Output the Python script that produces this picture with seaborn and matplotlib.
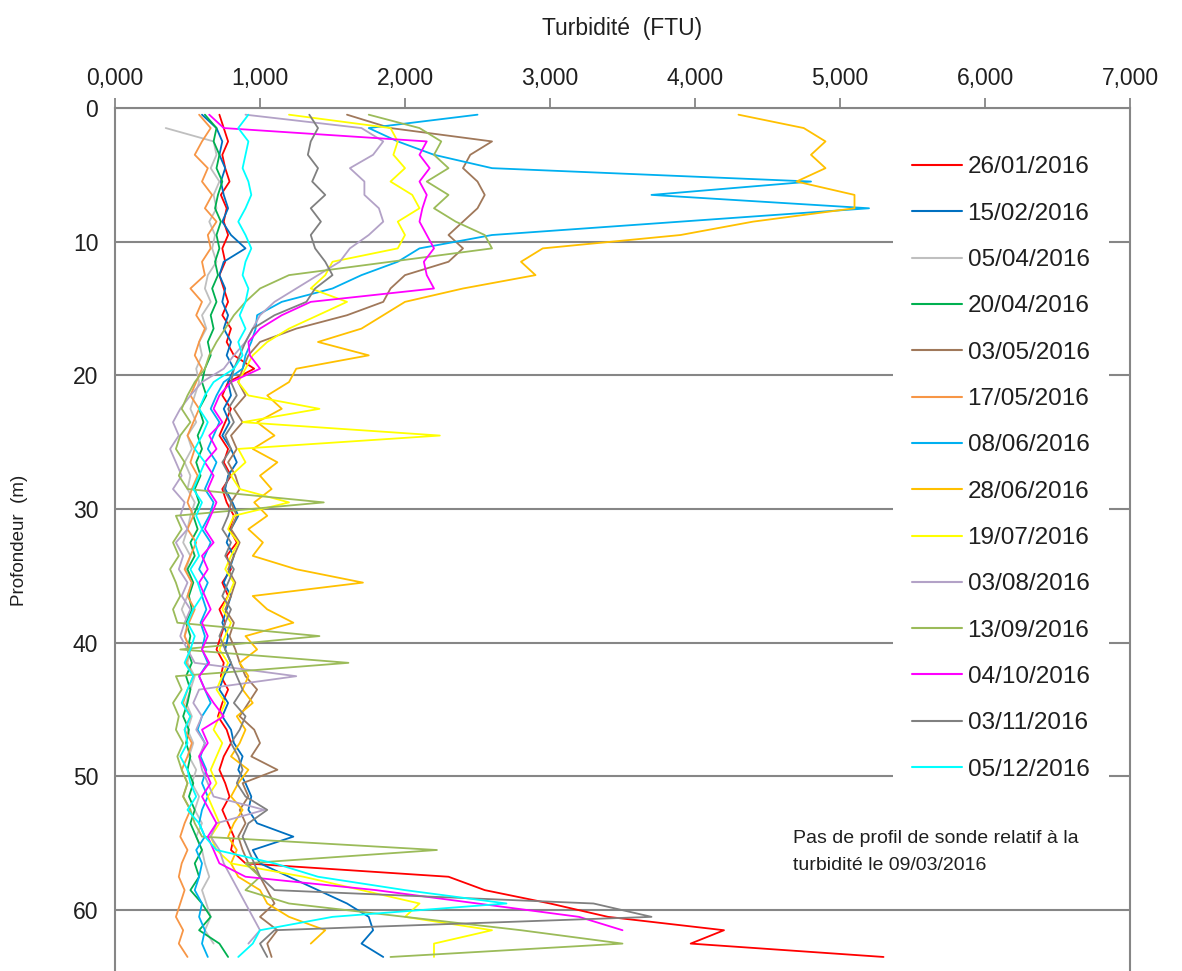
import numpy as np
import pandas as pd
import matplotlib
matplotlib.use("Agg")
import matplotlib.pyplot as plt
from matplotlib.ticker import FuncFormatter, MultipleLocator
import seaborn as sns

# --- DATA (1 m steps) ---
DEPTH_M = [0.5, 1.5, 2.5, 3.5, 4.5, 5.5, 6.5, 7.5, 8.5, 9.5,
           10.5, 11.5, 12.5, 13.5, 14.5, 15.5, 16.5, 17.5, 18.5, 19.5,
           20.5, 21.5, 22.5, 23.5, 24.5, 25.5, 26.5, 27.5, 28.5, 29.5,
           30.5, 31.5, 32.5, 33.5, 34.5, 35.5, 36.5, 37.5, 38.5, 39.5,
           40.5, 41.5, 42.5, 43.5, 44.5, 45.5, 46.5, 47.5, 48.5, 49.5,
           50.5, 51.5, 52.5, 53.5, 54.5, 55.5, 56.5, 57.5, 58.5, 59.5,
           60.5, 61.5, 62.5, 63.5]

DATES = ["26/01/2016", "15/02/2016", "05/04/2016", "20/04/2016", "03/05/2016",
         "17/05/2016", "08/06/2016", "28/06/2016", "19/07/2016", "03/08/2016",
         "13/09/2016", "04/10/2016", "03/11/2016", "05/12/2016"]

COLORS = ["#ff0000", "#0070c0", "#bfbfbf", "#00b050", "#a0785a",
          "#f79646", "#00b0f0", "#ffc000", "#ffff00", "#b3a2c7",
          "#9bbb59", "#ff00ff", "#808080", "#00ffff"]

nan = np.nan

T_2601 = [0.72, 0.75, 0.78, 0.74, 0.76, 0.79, 0.73, 0.77, 0.75, 0.78,
          0.74, 0.76, 0.72, 0.75, 0.78, 0.74, 0.80, 0.77, 0.82, 0.96,
          0.78, 0.74, 0.80, 0.76, 0.72, 0.78, 0.75, 0.80, 0.74, 0.77,
          0.82, 0.79, 0.84, 0.77, 0.80, 0.74, 0.78, 0.72, 0.76, 0.73,
          0.70, 0.75, 0.73, 0.78, 0.74, 0.71, 0.77, 0.80, 0.75, 0.72,
          0.76, 0.79, 0.74, 0.78, 0.82, 0.80, 0.90, 2.30, 2.55, 3.00,
          3.40, 4.20, 3.97, 5.30]
T_1502 = [0.60, 0.70, 0.74, 0.72, 0.76, 0.73, 0.75, 0.78, 0.74, 0.80,
          0.90, 0.75, 0.72, 0.76, 0.74, 0.78, 0.75, 0.80, 0.77, 0.82,
          0.78, 0.80, 0.75, 0.79, 0.74, 0.80, 0.84, 0.78, 0.76, 0.81,
          0.85, 0.80, 0.77, 0.82, 0.79, 0.75, 0.80, 0.77, 0.74, 0.78,
          0.76, 0.80, 0.75, 0.72, 0.78, 0.74, 0.80, 0.82, 0.88, 0.85,
          0.90, 0.94, 0.92, 0.98, 1.23, 0.95, 1.00, 1.20, 1.40, 1.60,
          1.75, 1.78, 1.70, 1.85]
T_0504 = [nan, 0.35, 0.68, 0.70, 0.66, 0.72, 0.68, 0.70, 0.65, 0.69,
          0.67, 0.70, 0.64, 0.62, 0.66, 0.60, 0.63, 0.58, 0.60, 0.56,
          0.58, 0.55, 0.52, 0.56, 0.50, 0.53, 0.48, 0.52, 0.50, 0.55,
          0.52, 0.50, 0.47, 0.52, 0.49, 0.53, 0.50, 0.46, 0.50, 0.48,
          0.52, 0.50, 0.55, 0.52, 0.49, 0.53, 0.50, 0.54, 0.51, 0.56,
          0.53, 0.58, 0.55, 0.60, 0.56, 0.60, 0.62, 0.65, 0.60, 0.63,
          0.66, 0.62, 0.68, nan]
T_2004 = [0.62, 0.70, 0.68, 0.72, 0.70, 0.74, 0.71, 0.69, 0.73, 0.70,
          0.72, 0.69, 0.71, 0.67, 0.70, 0.66, 0.68, 0.64, 0.66, 0.62,
          0.60, 0.63, 0.58, 0.61, 0.57, 0.60, 0.56, 0.59, 0.55, 0.58,
          0.54, 0.57, 0.52, 0.55, 0.50, 0.54, 0.51, 0.53, 0.49, 0.52,
          0.50, 0.53, 0.49, 0.52, 0.50, 0.47, 0.51, 0.49, 0.52, 0.50,
          0.54, 0.51, 0.55, 0.52, 0.56, 0.60, 0.55, 0.58, 0.52, 0.60,
          0.66, 0.58, 0.72, 0.78]
T_0305 = [1.60, 1.90, 2.60, 2.45, 2.40, 2.50, 2.55, 2.50, 2.40, 2.30,
          2.40, 2.30, 2.00, 1.90, 1.85, 1.60, 1.25, 1.00, 0.92, 0.88,
          0.85, 0.90, 0.82, 0.88, 0.80, 0.84, 0.78, 0.83, 0.86, 0.80,
          0.84, 0.80, 0.86, 0.82, 0.78, 0.83, 0.80, 0.76, 0.82, 0.79,
          0.83, 0.86, 0.90, 0.98, 0.92, 0.86, 0.96, 1.00, 0.94, 1.12,
          0.88, 0.92, 0.86, 0.90, 0.85, 0.88, 0.92, 1.00, 1.05, 1.10,
          1.00, 1.12, 1.05, 1.08]
T_1705 = [0.58, 0.66, 0.60, 0.55, 0.64, 0.60, 0.67, 0.62, 0.70, 0.64,
          0.66, 0.60, 0.62, 0.52, 0.60, 0.56, 0.62, 0.58, 0.55, 0.60,
          0.56, 0.52, 0.58, 0.54, 0.50, 0.55, 0.52, 0.57, 0.53, 0.50,
          0.54, 0.50, 0.56, 0.52, 0.48, 0.53, 0.50, 0.55, 0.51, 0.48,
          0.52, 0.49, 0.54, 0.50, 0.47, 0.52, 0.48, 0.53, 0.50, 0.46,
          0.50, 0.47, 0.52, 0.48, 0.45, 0.50, 0.46, 0.44, 0.48, 0.45,
          0.42, 0.47, 0.44, 0.50]
T_0806 = [2.50, 1.75, 1.95, 2.20, 2.60, 4.80, 3.70, 5.20, 3.90, 2.60,
          2.10, 1.95, 1.70, 1.50, 1.15, 0.98, 0.97, 0.94, 0.90, 0.88,
          0.75, 0.70, 0.66, 0.72, 0.68, 0.64, 0.70, 0.66, 0.62, 0.68,
          0.65, 0.60, 0.66, 0.62, 0.58, 0.64, 0.60, 0.63, 0.59, 0.62,
          0.60, 0.64, 0.58, 0.62, 0.66, 0.60, 0.57, 0.62, 0.59, 0.63,
          0.60, 0.64, 0.60, 0.58, 0.62, 0.56, 0.60, 0.58, 0.55, 0.60,
          0.58, 0.62, 0.60, 0.64]
T_2806 = [4.30, 4.75, 4.90, 4.80, 4.90, 4.70, 5.10, 5.10, 4.40, 3.90,
          2.95, 2.80, 2.90, 2.40, 2.00, 1.85, 1.70, 1.40, 1.75, 1.25,
          1.20, 1.05, 1.15, 0.98, 1.10, 0.95, 1.12, 1.00, 1.08, 0.96,
          1.05, 0.92, 1.02, 0.95, 1.25, 1.71, 0.95, 1.05, 1.23, 0.90,
          0.98, 0.86, 0.92, 0.88, 0.95, 0.84, 0.90, 0.86, 0.80, 0.92,
          0.85, 0.80, 0.88, 0.82, 0.78, 0.84, 0.80, 0.85, 1.00, 1.05,
          1.20, 1.45, 1.35, nan]
T_1907 = [1.20, 1.90, 1.95, 1.92, 2.00, 1.90, 2.05, 2.10, 1.95, 2.00,
          1.95, 1.50, 1.45, 1.35, 1.60, 1.40, 1.20, 1.05, 0.95, 0.90,
          0.85, 0.92, 1.41, 0.88, 2.24, 0.85, 0.90, 0.80, 0.86, 1.20,
          0.82, 0.78, 0.85, 0.80, 0.76, 0.82, 0.78, 0.74, 0.80, 0.76,
          0.72, 0.78, 0.74, 0.70, 0.76, 0.72, 0.68, 0.74, 0.70, 0.66,
          0.70, 0.64, 0.68, 0.72, 0.66, 0.70, 0.80, 1.30, 1.70, 2.10,
          2.00, 2.60, 2.20, 2.20]
T_0308 = [0.90, 1.70, 1.85, 1.78, 1.62, 1.72, 1.72, 1.82, 1.85, 1.75,
          1.62, 1.55, 1.40, 1.25, 1.10, 1.00, 0.95, 0.90, 0.82, 0.75,
          0.60, 0.52, 0.45, 0.40, 0.44, 0.38, 0.42, 0.46, 0.40, 0.48,
          0.45, 0.50, 0.42, 0.47, 0.44, 0.50, 0.46, 0.52, 0.48, 0.45,
          0.50, 0.55, 1.25, 0.58, 0.54, 0.60, 0.56, 0.62, 0.58, 0.60,
          0.64, 0.68, 1.03, 0.70, 0.66, 0.72, 0.75, 0.80, 0.85, 0.90,
          0.95, 1.00, 0.92, nan]
T_1309 = [1.75, 2.10, 2.25, 2.20, 2.30, 2.15, 2.30, 2.20, 2.35, 2.55,
          2.60, 1.90, 1.20, 1.00, 0.90, 0.82, 0.76, 0.70, 0.65, 0.62,
          0.55, 0.50, 0.46, 0.52, 0.45, 0.42, 0.48, 0.44, 0.50, 1.44,
          0.42, 0.46, 0.40, 0.44, 0.38, 0.42, 0.45, 0.40, 0.43, 1.41,
          0.45, 1.61, 0.42, 0.46, 0.40, 0.44, 0.42, 0.47, 0.43, 0.46,
          0.50, 0.47, 0.52, 0.55, 0.60, 2.22, 0.90, 1.00, 0.90, 1.20,
          2.00, 2.80, 3.50, 1.90]
T_0410 = [0.65, 0.75, 2.15, 2.10, 2.17, 2.10, 2.15, 2.12, 2.10, 2.15,
          2.20, 2.13, 2.15, 2.20, 1.35, 1.15, 1.00, 0.92, 0.93, 1.00,
          0.80, 0.72, 0.68, 0.74, 0.65, 0.70, 0.62, 0.68, 0.64, 0.70,
          0.66, 0.62, 0.68, 0.60, 0.64, 0.58, 0.62, 0.66, 0.60, 0.64,
          0.60, 0.65, 0.58, 0.62, 0.68, 0.75, 0.60, 0.64, 0.58, 0.62,
          0.66, 0.60, 0.65, 0.70, 0.64, 0.68, 0.72, 0.90, 1.80, 2.50,
          3.20, 3.50, nan, nan]
T_0311 = [1.34, 1.40, 1.35, 1.33, 1.40, 1.36, 1.45, 1.35, 1.42, 1.35,
          1.38, 1.45, 1.50, 1.38, 1.32, 1.10, 0.95, 0.90, 0.86, 0.82,
          0.80, 0.84, 0.78, 0.82, 0.76, 0.80, 0.74, 0.79, 0.75, 0.80,
          0.78, 0.74, 0.80, 0.76, 0.82, 0.78, 0.74, 0.80, 0.76, 0.72,
          0.76, 0.80, 0.84, 0.88, 0.82, 0.90, 0.86, 0.80, 0.85, 0.88,
          0.84, 0.90, 1.05, 0.92, 0.88, 0.92, 0.96, 1.00, 1.10, 3.30,
          3.70, 1.10, 1.00, 1.05]
T_0512 = [0.92, 0.85, 0.92, 0.90, 0.88, 0.92, 0.94, 0.90, 0.85, 0.90,
          0.94, 0.90, 0.88, 0.92, 0.90, 0.86, 0.90, 0.85, 0.88, 0.82,
          0.68, 0.62, 0.58, 0.64, 0.60, 0.55, 0.62, 0.58, 0.54, 0.60,
          0.56, 0.60, 0.55, 0.58, 0.52, 0.57, 0.60, 0.54, 0.50, 0.55,
          0.52, 0.48, 0.54, 0.50, 0.46, 0.52, 0.48, 0.50, 0.45, 0.50,
          0.52, 0.56, 0.50, 0.58, 0.62, 0.70, 1.10, 1.40, 2.00, 2.70,
          1.50, 1.00, 0.95, 0.85]

PROFILES = [T_2601, T_1502, T_0504, T_2004, T_0305, T_1705, T_0806,
            T_2806, T_1907, T_0308, T_1309, T_0410, T_0311, T_0512]

GRID_GREY = "#868686"
TEXT_COL = "#1f1f1f"

# long table for seaborn
frames = []
for date, vals in zip(DATES, PROFILES):
    frames.append(pd.DataFrame({"Profondeur": DEPTH_M, "Turbidite": vals, "Date": date}))
df = pd.concat(frames, ignore_index=True).dropna()

sns.set_style("white")
plt.rcParams["font.family"] = ["Liberation Sans", "DejaVu Sans"]

fig = plt.figure(figsize=(11.82, 9.71), dpi=100)
ax = fig.add_axes([115 / 1182, 0.0, 1015 / 1182, 863 / 971])

sns.lineplot(data=df, x="Turbidite", y="Profondeur", hue="Date", hue_order=DATES,
             palette=dict(zip(DATES, COLORS)), sort=False, estimator=None,
             linewidth=1.3, ax=ax, legend="full")

ax.set_xlim(0, 7)
ax.set_ylim(64.55, 0)
ax.xaxis.tick_top()
ax.xaxis.set_major_locator(MultipleLocator(1))
ax.xaxis.set_major_formatter(FuncFormatter(lambda v, p: f"{v:.3f}".replace(".", ",")))
ax.yaxis.set_major_locator(MultipleLocator(10))
ax.set_xlabel("")
ax.set_ylabel("")

ax.set_axisbelow(True)
ax.yaxis.grid(True, color=GRID_GREY, linewidth=1.5)
ax.xaxis.grid(False)
for side in ["left", "top", "right"]:
    ax.spines[side].set_visible(True)
    ax.spines[side].set_color(GRID_GREY)
    ax.spines[side].set_linewidth(1.5)
ax.spines["bottom"].set_visible(False)
ax.tick_params(axis="both", direction="out", length=7, width=1.3, color=GRID_GREY,
               labelsize=16.5, labelcolor=TEXT_COL)
ax.tick_params(axis="x", pad=6, bottom=False, top=True)
ax.tick_params(axis="y", pad=5)

# legend on white patch inside the plot
handles, labels = ax.get_legend_handles_labels()
ax.get_legend().remove()
leg = ax.legend(handles, labels, loc="upper left",
                bbox_to_anchor=((893 - 115) / 1015, 1 - (137 - 108) / 863),
                borderaxespad=0, borderpad=0.8, fontsize=17.5, labelspacing=1.0,
                handlelength=2.05, handletextpad=0.22, frameon=True, fancybox=False,
                facecolor="white", edgecolor="none", framealpha=1)
for line in leg.get_lines():
    line.set_linewidth(1.5)
for txt in leg.get_texts():
    txt.set_color(TEXT_COL)

fig.text(622 / 1182, 1 - 28 / 971, "Turbidité  (FTU)", ha="center", va="center",
         fontsize=16.5, color=TEXT_COL)
fig.text(20 / 1182, 1 - 540 / 971, "Profondeur  (m)", ha="center", va="center",
         rotation=90, fontsize=13.5, color=TEXT_COL)
fig.text(793 / 1182, 1 - 852 / 971,
         "Pas de profil de sonde relatif à la\nturbidité le 09/03/2016",
         ha="left", va="center", fontsize=14, linespacing=1.7, color=TEXT_COL)

fig.savefig("out.png", dpi=100)
